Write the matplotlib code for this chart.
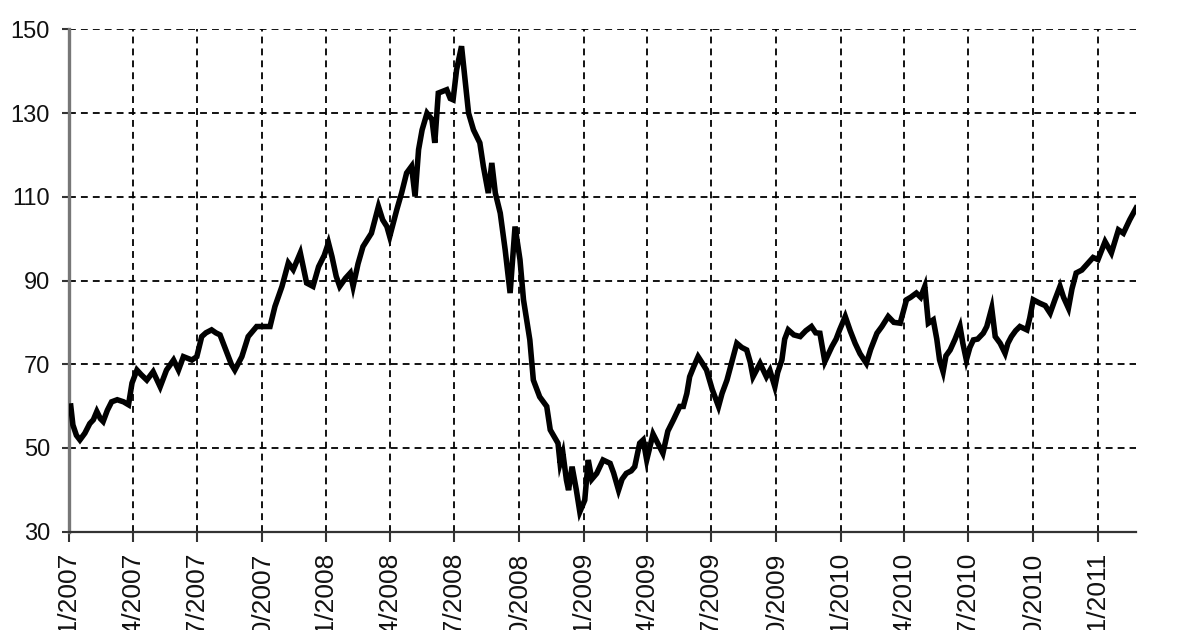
import numpy as np
import pandas as pd
import matplotlib
matplotlib.use("Agg")
import matplotlib.pyplot as plt
import matplotlib.dates as mdates

# days since 01/01/2007 and price
day_offset = [2, 5, 10, 15, 22, 29, 34, 39, 44, 48, 54, 60, 68, 77, 84, 89, 96, 102, 110, 119,
              129, 138, 148, 155, 162, 174, 181, 188, 194, 202, 208, 214, 224, 230, 235, 245, 254, 266, 275, 285,
              292, 302, 311, 318, 328, 337, 346, 354, 362, 368, 373, 379, 384, 392, 399, 403, 410, 417, 429, 439,
              445, 451, 455, 465, 472, 479, 486, 491, 496, 501, 508, 515, 519, 524, 536, 541, 545, 550, 557, 562,
              567, 574, 583, 588, 595, 600, 605, 612, 619, 626, 633, 640, 645, 654, 659, 668, 678, 683, 694, 697,
              701, 706, 709, 714, 720, 725, 732, 737, 742, 749, 758, 768, 773, 780, 785, 791, 798, 803, 810, 815,
              820, 829, 836, 843, 850, 858, 867, 872, 877, 881, 887, 893, 898, 905, 913, 922, 927, 934, 940, 948,
              955, 962, 967, 971, 981, 990, 995, 1002, 1006, 1012, 1016, 1021, 1029, 1038, 1046, 1054, 1060, 1066, 1073, 1083,
              1089, 1094, 1102, 1109, 1116, 1123, 1132, 1138, 1147, 1154, 1163, 1171, 1180, 1189, 1195, 1203, 1209, 1215, 1220, 1227,
              1232, 1236, 1241, 1245, 1251, 1258, 1265, 1269, 1274, 1279, 1284, 1290, 1298, 1303, 1310, 1315, 1322, 1329, 1333, 1338,
              1344, 1350, 1360, 1364, 1369, 1378, 1386, 1393, 1400, 1407, 1412, 1419, 1424, 1430, 1438, 1447, 1454, 1461, 1471, 1480,
              1490, 1497, 1506, 1515]
price = [60.0, 55.5, 53.0, 51.9, 53.5, 55.8, 56.7, 58.7, 57.0, 56.3, 59.0, 61.0, 61.5, 61.0, 60.3, 65.5, 68.6, 67.5, 66.2, 68.2,
         64.6, 68.6, 71.0, 68.6, 71.8, 71.0, 71.8, 76.6, 77.5, 78.2, 77.5, 77.0, 72.6, 70.0, 68.6, 71.8, 76.6, 79.0, 79.0, 79.0,
         83.8, 88.6, 94.2, 92.6, 96.6, 89.4, 88.6, 93.3, 96.0, 99.0, 95.7, 91.0, 88.6, 90.5, 91.8, 88.6, 94.0, 98.1, 101.3, 107.7,
         104.5, 102.9, 100.5, 106.9, 111.0, 115.7, 117.3, 110.1, 121.3, 126.0, 130.0, 128.5, 122.9, 134.8, 135.6, 133.5, 133.2, 140.4, 146.0, 137.9,
         130.0, 126.0, 122.9, 117.3, 110.9, 118.1, 110.9, 106.1, 97.3, 87.0, 102.9, 95.0, 85.4, 75.8, 66.2, 62.2, 59.9, 54.3, 51.1, 46.3,
         48.7, 42.3, 39.9, 45.5, 40.0, 34.7, 37.5, 47.1, 42.5, 43.9, 47.1, 46.3, 44.0, 39.9, 42.5, 43.9, 44.5, 45.5, 51.1, 51.9,
         47.1, 53.3, 51.0, 48.7, 54.0, 56.7, 59.9, 59.9, 63.0, 67.0, 69.5, 71.8, 70.5, 68.6, 64.0, 59.9, 63.0, 66.2, 70.0, 75.0,
         74.0, 73.4, 70.5, 67.0, 70.2, 67.0, 68.5, 64.6, 68.0, 71.0, 76.0, 78.2, 77.0, 76.6, 78.0, 79.0, 77.5, 77.4, 70.6, 74.2,
         76.0, 78.2, 81.4, 78.0, 75.0, 72.5, 70.2, 73.5, 77.4, 79.0, 81.4, 80.0, 79.8, 85.4, 86.0, 87.0, 86.0, 88.6, 79.8, 80.6,
         76.0, 71.0, 68.2, 72.0, 73.4, 76.0, 79.0, 75.0, 71.0, 74.0, 75.8, 76.0, 77.4, 79.0, 83.4, 76.6, 75.0, 72.6, 75.0, 76.6,
         78.0, 79.0, 78.2, 81.0, 85.4, 84.6, 84.0, 82.2, 85.5, 88.6, 86.0, 83.4, 88.0, 91.8, 92.5, 94.2, 95.5, 95.0, 99.3, 96.6,
         102.1, 101.3, 104.5, 107.3]
y_ticks = [30, 50, 70, 90, 110, 130, 150]

start = pd.Timestamp("2007-01-01")
dates = start + pd.to_timedelta(day_offset, unit="D")

plt.rcParams['font.family'] = ['Liberation Sans', 'DejaVu Sans']

fig = plt.figure(figsize=(12, 6.3), dpi=100)
fig.patch.set_facecolor('white')
ax = fig.add_axes([0.0578, 0.1563, 0.8889, 0.7969])
ax.set_facecolor('white')

ax.plot(dates, price, color='black', linewidth=4.0, solid_joinstyle='miter', zorder=3)

ax.set_xlim(start, start + pd.Timedelta(days=1515))
ax.set_ylim(30, 150)
ax.set_yticks(y_ticks)
ax.xaxis.set_major_locator(mdates.MonthLocator(bymonth=[1, 4, 7, 10]))
ax.xaxis.set_major_formatter(mdates.DateFormatter('%m/%Y'))

ax.grid(True, color='black', linestyle=(0, (3.8, 2.8)), linewidth=1.3)
ax.set_axisbelow(True)

# labels run off the bottom edge, as in the reference
ax.tick_params(axis='x', labelrotation=90, labelsize=19, length=7, width=1.5,
               color='#333333', pad=8, labelcolor='#111111')
ax.tick_params(axis='y', labelsize=17, length=5, width=1.5,
               color='#333333', pad=9, labelcolor='#111111')

ax.spines['top'].set_visible(False)
ax.spines['right'].set_visible(False)
ax.spines['left'].set_color('#777777')
ax.spines['left'].set_linewidth(2.4)
ax.spines['bottom'].set_color('#333333')
ax.spines['bottom'].set_linewidth(1.6)

plt.savefig('out.png', dpi=100, facecolor='white')
